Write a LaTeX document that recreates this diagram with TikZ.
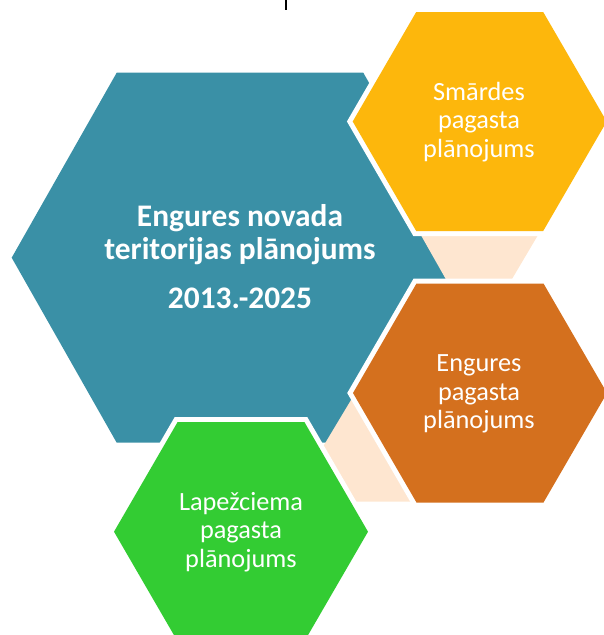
\documentclass[tikz,border=0pt]{standalone}
\usepackage{fontspec}
\setmainfont{Carlito}
\definecolor{tealc}{RGB}{58,144,166}
\definecolor{yellowc}{RGB}{253,183,12}
\definecolor{orangec}{RGB}{212,112,30}
\definecolor{greenc}{RGB}{51,204,51}
\definecolor{peachc}{RGB}{254,230,208}
\tikzset{
  hexwhite/.style={preaction={draw=white, line width=10pt, line join=miter}},
  bigtext/.style={text=white, font=\fontsize{31.4}{33}\selectfont\bfseries, anchor=base, inner sep=0pt},
  smalltext/.style={text=white, font=\fontsize{26.3}{28.5}\selectfont, anchor=base, inner sep=0pt},
}
\begin{document}
\begin{tikzpicture}[x=1pt, y=-1pt]
\useasboundingbox (0,0) rectangle (603,635);
\coordinate (tc) at (240,257.7);
\coordinate (yc) at (479.7,121.5);
\coordinate (oc) at (480,393);
\coordinate (gc) at (241,531.7);
\coordinate (ticktop) at (286,0);
\coordinate (tickbot) at (286,10);
% central hexagon
\fill[tealc, shift={(tc)}] (-228.3,0) -- (-123.3,-185) -- (123.3,-185) -- (228.3,0) -- (123.3,185) -- (-123.3,185) -- cycle;
% connector shapes
\fill[peachc] (418,230) -- (541,230) -- (505.5,290) -- (452,290) -- cycle;
\fill[peachc] (360,385) -- (309,470) -- (330,501.7) -- (414,501.7) -- (400,385) -- cycle;
% outer hexagons
\fill[yellowc, hexwhite, shift={(yc)}] (-127,0) -- (-63.5,-109.5) -- (63.5,-109.5) -- (127,0) -- (63.5,109.5) -- (-63.5,109.5) -- cycle;
\fill[orangec, hexwhite, shift={(oc)}] (-127,0) -- (-63.5,-109.5) -- (63.5,-109.5) -- (127,0) -- (63.5,109.5) -- (-63.5,109.5) -- cycle;
\fill[greenc, hexwhite, shift={(gc)}] (-127,0) -- (-63.5,-109.5) -- (63.5,-109.5) -- (127,0) -- (63.5,109.5) -- (-63.5,109.5) -- cycle;
% texts
\node[bigtext] (t1) at (240,226) {Engures novada};
\node[bigtext] (t2) at (240,259.3) {teritorijas plānojums};
\node[bigtext] (t3) at (240,308.3) {2013.-2025};
\node[smalltext] (y1) at (479,100) {Smārdes};
\node[smalltext] (y2) at (479,128.5) {pagasta};
\node[smalltext] (y3) at (479,157) {plānojums};
\node[smalltext] (o1) at (479,371.5) {Engures};
\node[smalltext] (o2) at (479,400) {pagasta};
\node[smalltext] (o3) at (479,428.5) {plānojums};
\node[smalltext] (g1) at (241,510) {Lapežciema};
\node[smalltext] (g2) at (241,538.5) {pagasta};
\node[smalltext] (g3) at (241,567) {plānojums};
% small mark at top
\draw[black, line width=1.3pt] (ticktop) -- (tickbot);
\end{tikzpicture}
\end{document}
